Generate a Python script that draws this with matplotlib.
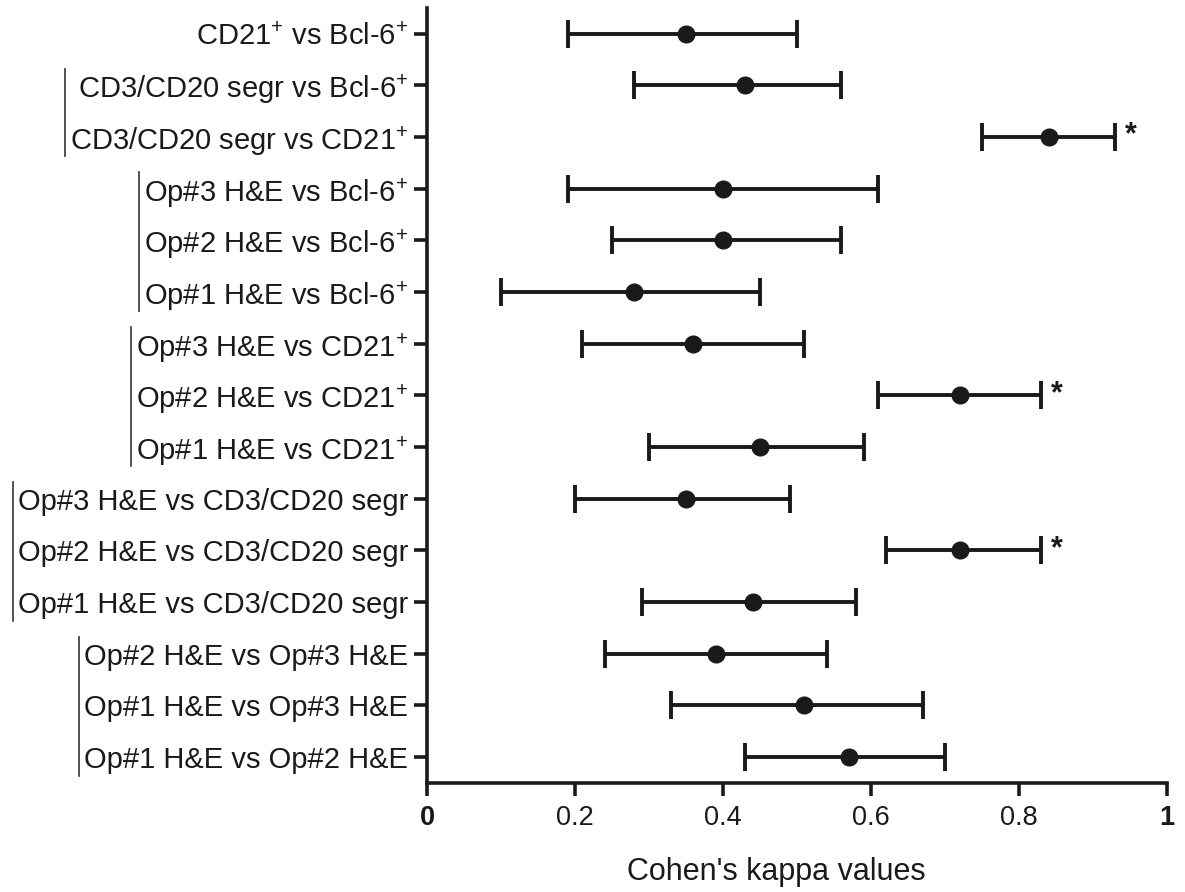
import matplotlib
matplotlib.use("Agg")
import matplotlib.pyplot as plt
from matplotlib.lines import Line2D
import numpy as np

plt.rcParams['font.family'] = ['Liberation Sans', 'DejaVu Sans']
plt.rcParams['mathtext.default'] = 'regular'

labels = [
    r"CD21$^{+}$ vs Bcl-6$^{+}$",
    r"CD3/CD20 segr vs Bcl-6$^{+}$",
    r"CD3/CD20 segr vs CD21$^{+}$",
    r"Op#3 H&E vs Bcl-6$^{+}$",
    r"Op#2 H&E vs Bcl-6$^{+}$",
    r"Op#1 H&E vs Bcl-6$^{+}$",
    r"Op#3 H&E vs CD21$^{+}$",
    r"Op#2 H&E vs CD21$^{+}$",
    r"Op#1 H&E vs CD21$^{+}$",
    "Op#3 H&E vs CD3/CD20 segr",
    "Op#2 H&E vs CD3/CD20 segr",
    "Op#1 H&E vs CD3/CD20 segr",
    "Op#2 H&E vs Op#3 H&E",
    "Op#1 H&E vs Op#3 H&E",
    "Op#1 H&E vs Op#2 H&E",
]
kappa = [0.35, 0.43, 0.84, 0.40, 0.40, 0.28, 0.36, 0.72, 0.45, 0.35, 0.72, 0.44, 0.39, 0.51, 0.57]
ci_low = [0.19, 0.28, 0.75, 0.19, 0.25, 0.10, 0.21, 0.61, 0.30, 0.20, 0.62, 0.29, 0.24, 0.33, 0.43]
ci_high = [0.50, 0.56, 0.93, 0.61, 0.56, 0.45, 0.51, 0.83, 0.59, 0.49, 0.83, 0.58, 0.54, 0.67, 0.70]
significant = [False, False, True, False, False, False, False, True, False, False, True, False, False, False, False]
groups = [(1, 2), (3, 5), (6, 8), (9, 11), (12, 14)]  # row index ranges with bracket lines
xticks = [0, 0.2, 0.4, 0.6, 0.8, 1]
xticklabels = ["0", "0.2", "0.4", "0.6", "0.8", "1"]

fig = plt.figure(figsize=(11.85, 8.92), dpi=100)
ax = fig.add_axes([0.3603, 0.1222, 0.6245, 0.869])

y = np.arange(len(labels))
kappa_a = np.array(kappa)
lo = kappa_a - np.array(ci_low)
hi = np.array(ci_high) - kappa_a
ax.errorbar(kappa_a, y, xerr=[lo, hi], fmt='o', color='#1a1a1a', ecolor='#1a1a1a',
            markersize=12, elinewidth=2.8, capsize=10, capthick=2.8, zorder=3)

for yi, h, s in zip(y, ci_high, significant):
    if s:
        ax.annotate("*", xy=(h, yi), xytext=(7, 1), textcoords='offset points',
                    ha='left', va='center', fontsize=22, fontweight='bold', color='#1a1a1a')

ax.set_ylim(len(labels) - 0.5, -0.5)
ax.set_xlim(0, 1)
ax.set_yticks(y)
ax.set_yticklabels(labels, fontsize=21, color='#1a1a1a')
ax.set_xticks(xticks)
ax.set_xticklabels(xticklabels, fontsize=19.5, color='#1a1a1a')
for t in ax.get_xticklabels():
    if t.get_text() in ("0", "1"):
        t.set_fontweight('bold')
ax.set_xlabel("Cohen's kappa values", fontsize=22, color='#1a1a1a', labelpad=25)
ax.xaxis.set_label_coords(0.472, -0.095)

for side in ('top', 'right'):
    ax.spines[side].set_visible(False)
for side in ('left', 'bottom'):
    ax.spines[side].set_linewidth(2.6)
    ax.spines[side].set_color('#1a1a1a')
ax.tick_params(axis='y', length=9.5, width=2.6, pad=4, color='#1a1a1a')
ax.tick_params(axis='x', length=9, width=2.6, pad=7, color='#1a1a1a')

# bracket lines to the left of label groups
fig.canvas.draw()
renderer = fig.canvas.get_renderer()
ticklabels = ax.get_yticklabels()
W, H = fig.bbox.width, fig.bbox.height
for a, b in groups:
    x0 = min(ticklabels[i].get_window_extent(renderer).x0 for i in range(a, b + 1))
    ytop = ax.transData.transform((0, a - 0.32))[1]
    ybot = ax.transData.transform((0, b + 0.37))[1]
    xl = (x0 - 5) / W
    fig.add_artist(Line2D([xl, xl], [ytop / H, ybot / H], transform=fig.transFigure,
                          color='#333333', linewidth=1.2))

fig.savefig("out.png", dpi=100)
